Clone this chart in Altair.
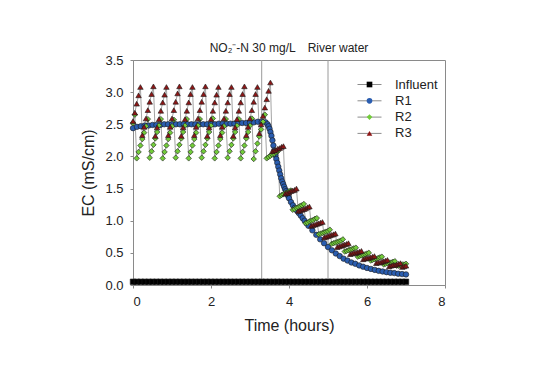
import numpy as np
import pandas as pd
import altair as alt

FONT = "Liberation Sans"
names = ["Influent", "R1", "R2", "R3"]
fill_colors = ["#000000", "#2a5db0", "#72cc3a", "#8e1616"]
shapes = ["square", "circle", "diamond", "triangle-up"]
LINE_GRAY = "#8c8c8c"

event_t = [3.3, 5.0]
event_labels = ["NO\u2082\u207b-N 30 mg/L", "River water"]

x_ticks = [0, 2, 4, 6, 8]
y_ticks = [0.0, 0.5, 1.0, 1.5, 2.0, 2.5, 3.0, 3.5]

# Influent, sampled every 0.1 h
influent_t = np.round(np.arange(0, 7.05, 0.1), 3)
influent_v = [
    0.05, 0.05, 0.05, 0.05, 0.05, 0.05, 0.05, 0.05, 0.05, 0.05,
    0.05, 0.05, 0.05, 0.05, 0.05, 0.05, 0.05, 0.05, 0.05, 0.05,
    0.05, 0.05, 0.05, 0.05, 0.05, 0.05, 0.05, 0.05, 0.05, 0.05,
    0.05, 0.05, 0.05, 0.05, 0.05, 0.05, 0.05, 0.05, 0.05, 0.05,
    0.05, 0.05, 0.05, 0.05, 0.05, 0.05, 0.05, 0.05, 0.05, 0.05,
    0.05, 0.05, 0.05, 0.05, 0.05, 0.05, 0.05, 0.05, 0.05, 0.05,
    0.05, 0.05, 0.05, 0.05, 0.05, 0.05, 0.05, 0.05, 0.05, 0.05,
    0.05,
]

# R1 sampling times (denser in the steep drop)
r1_t = np.round(np.concatenate([
    np.arange(0, 3.45, 0.1),
    np.arange(3.45, 4.0125, 0.025),
    np.arange(4.05, 4.525, 0.05),
    np.arange(4.6, 7.05, 0.1),
]), 3)
r1_v = [
    2.44, 2.46, 2.47, 2.48, 2.48, 2.49, 2.49, 2.49, 2.50, 2.50,
    2.50, 2.50, 2.50, 2.50, 2.50, 2.50, 2.50, 2.50, 2.50, 2.50,
    2.50, 2.50, 2.51, 2.51, 2.51, 2.51, 2.51, 2.52, 2.52, 2.52,
    2.53, 2.53, 2.54, 2.54, 2.53,
    2.50, 2.47, 2.43, 2.38, 2.32, 2.25, 2.17, 2.09, 2.02, 1.96,
    1.90, 1.84, 1.78, 1.72, 1.66, 1.61, 1.57, 1.53, 1.49, 1.46,
    1.42, 1.39, 1.35,
    1.29, 1.24, 1.20, 1.16, 1.12, 1.08, 1.04, 1.00, 0.96, 0.92,
    0.85, 0.78, 0.71, 0.65, 0.59, 0.54, 0.49, 0.45, 0.41, 0.38,
    0.35, 0.33, 0.305, 0.285, 0.265, 0.25, 0.235, 0.22, 0.21, 0.20,
    0.19, 0.185, 0.175, 0.17, 0.165,
]

# R2 / R3 sampled every 20/7 minutes
rx_t = np.round(np.arange(148) / 21.0, 4)
r2_v = [
    2.52, 2.65,
    1.97, 2.07, 2.17, 2.27, 2.37, 2.47, 2.58,
    1.98, 2.08, 2.18, 2.28, 2.38, 2.48, 2.58,
    1.97, 2.07, 2.17, 2.27, 2.37, 2.47, 2.57,
    1.98, 2.08, 2.18, 2.28, 2.38, 2.48, 2.58,
    1.97, 2.07, 2.17, 2.27, 2.37, 2.48, 2.58,
    1.98, 2.08, 2.18, 2.28, 2.38, 2.48, 2.59,
    1.97, 2.07, 2.17, 2.27, 2.37, 2.47, 2.58,
    1.98, 2.08, 2.18, 2.28, 2.38, 2.48, 2.58,
    1.97, 2.07, 2.17, 2.28, 2.38, 2.48, 2.59,
    1.96, 2.08, 2.20, 2.31, 2.42, 2.54, 2.65,
    1.97, 1.99, 2.01, 2.03, 2.04, 2.06, 2.08,
    1.38, 1.40, 1.41, 1.43, 1.44, 1.46, 1.47,
    1.17, 1.18, 1.20, 1.21, 1.23, 1.24, 1.26,
    0.96, 0.97, 0.99, 1.00, 1.01, 1.03, 1.04,
    0.79, 0.80, 0.81, 0.82, 0.83, 0.84, 0.86,
    0.64, 0.65, 0.66, 0.67, 0.68, 0.69, 0.71,
    0.52, 0.53, 0.54, 0.55, 0.56, 0.57, 0.58,
    0.44, 0.45, 0.46, 0.47, 0.48, 0.49, 0.50,
    0.38, 0.39, 0.40, 0.41, 0.42, 0.43, 0.44,
    0.32, 0.33, 0.34, 0.35, 0.35, 0.36, 0.37,
    0.30, 0.30, 0.31, 0.32, 0.32, 0.33,
]
r3_v = [
    2.55, 2.68, 2.82, 2.95, 3.08,
    2.33, 2.46, 2.59, 2.72, 2.85, 2.97, 3.09,
    2.32, 2.45, 2.58, 2.71, 2.84, 2.96, 3.08,
    2.33, 2.46, 2.59, 2.72, 2.85, 2.98, 3.09,
    2.32, 2.45, 2.58, 2.71, 2.84, 2.97, 3.08,
    2.33, 2.46, 2.59, 2.72, 2.85, 2.97, 3.09,
    2.32, 2.45, 2.58, 2.71, 2.84, 2.96, 3.08,
    2.33, 2.46, 2.59, 2.71, 2.84, 2.97, 3.08,
    2.32, 2.45, 2.58, 2.71, 2.84, 2.97, 3.09,
    2.33, 2.46, 2.59, 2.72, 2.85, 2.97, 3.08,
    2.36, 2.50, 2.63, 2.76, 2.89, 3.02, 3.15,
    2.08, 2.09, 2.10, 2.12, 2.13, 2.15, 2.16,
    1.42, 1.43, 1.44, 1.46, 1.47, 1.48, 1.50,
    1.15, 1.16, 1.17, 1.18, 1.19, 1.21, 1.22,
    0.92, 0.93, 0.94, 0.95, 0.96, 0.97, 0.98,
    0.74, 0.75, 0.76, 0.77, 0.78, 0.79, 0.80,
    0.59, 0.60, 0.61, 0.62, 0.63, 0.64, 0.65,
    0.48, 0.49, 0.50, 0.50, 0.51, 0.52, 0.53,
    0.40, 0.41, 0.42, 0.42, 0.43, 0.44, 0.45,
    0.34, 0.35, 0.35, 0.36, 0.37, 0.38, 0.39,
    0.29, 0.30, 0.31, 0.31, 0.32, 0.33, 0.34,
    0.28, 0.29, 0.30,
]

assert len(influent_t) == len(influent_v)
assert len(r1_t) == len(r1_v), (len(r1_t), len(r1_v))
assert len(rx_t) == len(r2_v) == len(r3_v), (len(r2_v), len(r3_v))

frames = []
for nm, tt, vv in [("Influent", influent_t, influent_v), ("R1", r1_t, r1_v),
                   ("R2", rx_t, r2_v), ("R3", rx_t, r3_v)]:
    frames.append(pd.DataFrame({"t": tt, "value": vv, "series": nm}))
df = pd.concat(frames, ignore_index=True)
df["series_l"] = df["series"]

events = pd.DataFrame({"t": event_t, "label": event_labels})

x_enc = alt.X("t:Q", scale=alt.Scale(domain=[0, 8], nice=False),
              axis=alt.Axis(values=x_ticks, format="d", title="Time (hours)",
                            labelPadding=7, titlePadding=9))
y_enc = alt.Y("value:Q", scale=alt.Scale(domain=[0, 3.5], nice=False),
              axis=alt.Axis(values=y_ticks, format=".1f", title="EC (mS/cm)",
                            labelPadding=7, titlePadding=8))

LEG_X, LEG_Y = 230, 18
leg_lines = alt.Legend(title=None, orient="none", legendX=LEG_X, legendY=LEG_Y,
                       symbolType="M-4,0H4", symbolSize=36, symbolStrokeWidth=1,
                       symbolStrokeColor=LINE_GRAY, labelOffset=19,
                       labelFont=FONT, labelFontSize=13, labelColor="#222",
                       rowPadding=2.3, padding=0)
leg_marks = alt.Legend(title=None, orient="none", legendX=LEG_X, legendY=LEG_Y,
                       symbolSize=32, symbolStrokeColor="#1a1a1a",
                       symbolStrokeWidth=0.6, labelOffset=19,
                       labelFont=FONT, labelFontSize=13, labelOpacity=0,
                       rowPadding=2.3, padding=0)

rules = alt.Chart(events).mark_rule(color="#9a9a9a", strokeWidth=1).encode(x=x_enc)

lines = alt.Chart(df).mark_line(strokeWidth=0.8).encode(
    x=x_enc, y=y_enc,
    stroke=alt.Stroke("series_l:N", scale=alt.Scale(range=[LINE_GRAY] * 4), legend=leg_lines),
)

pts = alt.Chart(df).mark_point(filled=True, size=30, opacity=1,
                               stroke="#1a1a1a", strokeWidth=0.6).encode(
    x=x_enc, y=y_enc,
    fill=alt.Fill("series:N", scale=alt.Scale(domain=names, range=fill_colors), legend=leg_marks),
    shape=alt.Shape("series:N", scale=alt.Scale(domain=names, range=shapes), legend=leg_marks),
)

txt1 = alt.Chart(events).transform_filter(alt.datum.label == event_labels[0]).mark_text(
    dx=-9, align="center", baseline="middle", font=FONT, fontSize=12, color="#222"
).encode(x=x_enc, y=alt.value(-12.5), text="label:N")
txt2 = alt.Chart(events).transform_filter(alt.datum.label == event_labels[1]).mark_text(
    dx=10, align="center", baseline="middle", font=FONT, fontSize=12, color="#222"
).encode(x=x_enc, y=alt.value(-12.5), text="label:N")

chart = alt.layer(rules, lines, pts, txt1, txt2).properties(
    width=312, height=225,
    padding={"left": 125, "top": 52, "right": 81, "bottom": 91},
    autosize="none",
).configure_view(
    stroke="#8a8a8a", strokeWidth=1
).configure_axis(
    grid=False, domainColor="#8a8a8a", tickColor="#8a8a8a", tickSize=3,
    labelFont=FONT, labelFontSize=13, labelColor="#222",
    titleFont=FONT, titleFontSize=16, titleFontWeight="normal", titleColor="#222",
)

chart.save("out.html", embed_options={"renderer": "svg", "actions": False})
